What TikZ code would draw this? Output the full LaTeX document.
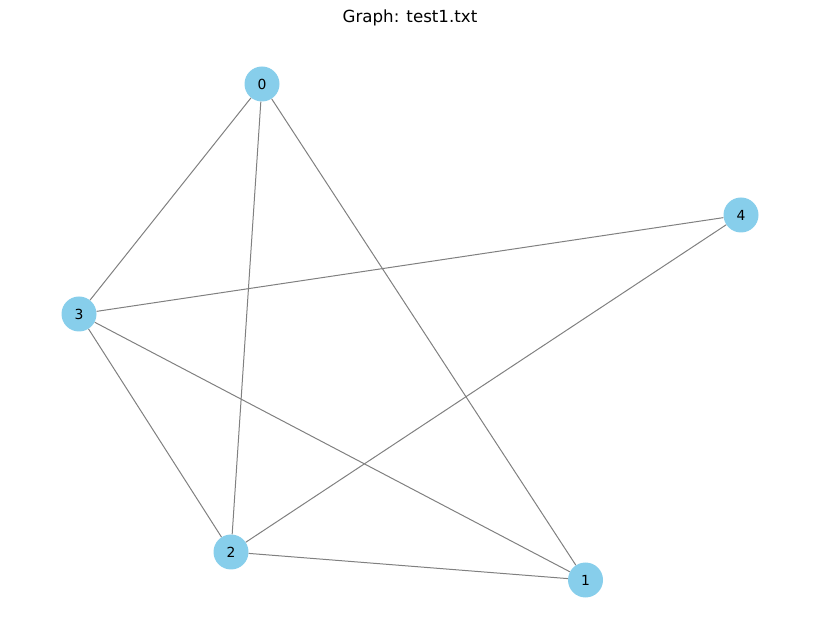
\documentclass[tikz,border=0pt]{standalone}
\usepackage{fontspec}
\setmainfont{DejaVu Sans}

\definecolor{skyblue}{HTML}{87CEEB}
\definecolor{edgegray}{HTML}{808080}

\tikzstyle{vertex}=[circle, minimum size=25.2pt, inner sep=0pt, fill=skyblue, font=\fontsize{10}{12}\selectfont]
\tikzstyle{edge}=[draw=edgegray, line width=0.72pt]

\begin{document}
\begin{tikzpicture}[x=0.72pt, y=-0.72pt]

\useasboundingbox (0,0) rectangle (819,642);

\node(title) at (410,18){\fontsize{12}{14}\selectfont Graph: test1.txt};

\node(v0)[vertex] at (262,84){0};
\node(v1)[vertex] at (585.5,580){1};
\node(v2)[vertex] at (231,552){2};
\node(v3)[vertex] at (79,314){3};
\node(v4)[vertex] at (741,215){4};

\draw[edge](v0)--(v3);
\draw[edge](v0)--(v2);
\draw[edge](v0)--(v1);
\draw[edge](v3)--(v4);
\draw[edge](v3)--(v2);
\draw[edge](v3)--(v1);
\draw[edge](v4)--(v2);
\draw[edge](v2)--(v1);

\end{tikzpicture}
\end{document}
